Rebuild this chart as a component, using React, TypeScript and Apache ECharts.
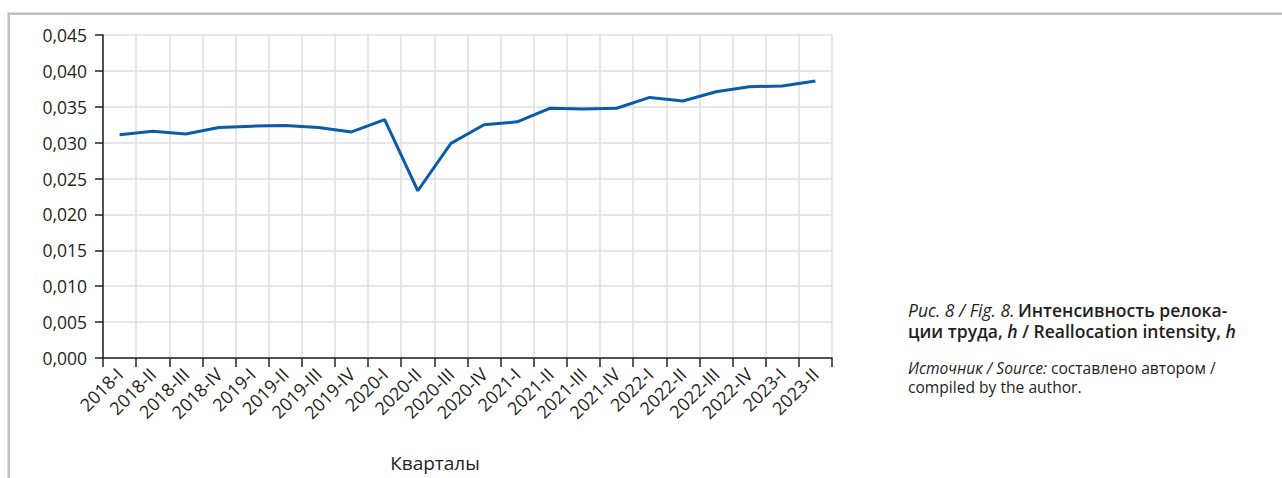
import React, { useEffect, useRef } from "react";
import * as echarts from "echarts";

const categories = [
  "2018-I", "2018-II", "2018-III", "2018-IV",
  "2019-I", "2019-II", "2019-III", "2019-IV",
  "2020-I", "2020-II", "2020-III", "2020-IV",
  "2021-I", "2021-II", "2021-III", "2021-IV",
  "2022-I", "2022-II", "2022-III", "2022-IV",
  "2023-I", "2023-II",
];

const values = [
  0.0311, 0.0316, 0.0312, 0.0321,
  0.0323, 0.0324, 0.0321, 0.0315,
  0.0332, 0.0233, 0.0299, 0.0325,
  0.0329, 0.0348, 0.0347, 0.0348,
  0.0363, 0.0358, 0.0371, 0.0378,
  0.0379, 0.0386,
];

const yMin = 0;
const yMax = 0.045;
const yStep = 0.005;

const xAxisName = "Кварталы";
const titleLine1 = ["Рис. 8 / Fig. 8.", "Интенсивность релока-"];
const titleLine2 = ["ции труда, ", "h", " / Reallocation intensity, ", "h"];
const sourceLine1 = ["Источник / Source:", " составлено автором /"];
const sourceLine2 = "compiled by the author.";

export default function App() {
  const ref = useRef<HTMLDivElement>(null);

  useEffect(() => {
    if (!ref.current) return;
    const chart = echarts.init(ref.current, null, { renderer: "svg" });
    const textColor = "#231f20";
    const axisFont = "'Open Sans', sans-serif";
    const titleFont = "'Open Sans', sans-serif";
    const tSize = 17.5;
    const tLine = 21.5;
    const sSize = 15.6;
    const sLine = 19.6;
    chart.setOption({
      animation: false,
      backgroundColor: "#ffffff",
      grid: { left: 103, right: 450, top: 35, bottom: 120, containLabel: false },
      xAxis: {
        type: "category",
        data: categories,
        boundaryGap: true,
        axisLine: { show: true, lineStyle: { color: "#231f20", width: 1.5 } },
        axisTick: { show: true, length: 9, lineStyle: { color: "#231f20", width: 1.5 } },
        axisLabel: {
          rotate: 45,
          interval: 0,
          margin: 13,
          color: textColor,
          fontFamily: axisFont,
          fontSize: 18,
        },
        splitLine: { show: true, lineStyle: { color: "#dedede", width: 1.5 } },
      },
      yAxis: {
        type: "value",
        min: yMin,
        max: yMax,
        interval: yStep,
        axisLine: { show: true, lineStyle: { color: "#231f20", width: 1.5 } },
        axisTick: { show: true, length: 8, lineStyle: { color: "#231f20", width: 1.5 } },
        axisLabel: {
          margin: 16,
          color: textColor,
          fontFamily: axisFont,
          fontSize: 17.5,
          formatter: (v: number) => v.toFixed(3).replace(".", ","),
        },
        splitLine: { show: true, lineStyle: { color: "#dedede", width: 1.5 } },
      },
      series: [
        {
          type: "line",
          data: values,
          symbol: "none",
          lineStyle: { color: "#0a5ba8", width: 3 },
        },
      ],
      graphic: [
        { type: "rect", shape: { x: 8, y: 12.5, width: 1274, height: 2.5 }, style: { fill: "#bfc0c2" } },
        { type: "rect", shape: { x: 7.5, y: 12.5, width: 2.5, height: 466 }, style: { fill: "#bfc0c2" } },
        {
          type: "text",
          x: 435,
          y: 463,
          style: {
            text: xAxisName,
            fill: textColor,
            font: `19px ${axisFont}`,
            align: "center",
            verticalAlign: "middle",
          },
        },
        {
          type: "text",
          x: 908,
          y: 320.5 - tLine,
          style: {
            text:
              `{i|${titleLine1[0]}} {b|${titleLine1[1]}}\n` +
              `{b|${titleLine2[0]}}{bi|${titleLine2[1]}}{b|${titleLine2[2]}}{bi|${titleLine2[3]}}`,
            verticalAlign: "top",
            rich: {
              i: { fontFamily: titleFont, fontSize: tSize, lineHeight: tLine, fontStyle: "italic", fill: textColor, color: textColor },
              b: { fontFamily: titleFont, fontSize: tSize, lineHeight: tLine, fontWeight: 600, fill: textColor, color: textColor },
              bi: { fontFamily: titleFont, fontSize: tSize, lineHeight: tLine, fontWeight: 600, fontStyle: "italic", fill: textColor, color: textColor },
            },
          },
        },
        {
          type: "text",
          x: 908,
          y: 377.5 - sLine,
          style: {
            text: `{i|${sourceLine1[0]}}{r|${sourceLine1[1]}}\n{r|${sourceLine2}}`,
            verticalAlign: "top",
            rich: {
              i: { fontFamily: titleFont, fontSize: sSize, lineHeight: sLine, fontStyle: "italic", fill: textColor, color: textColor },
              r: { fontFamily: titleFont, fontSize: sSize, lineHeight: sLine, fill: textColor, color: textColor },
            },
          },
        },
      ],
    });
    return () => chart.dispose();
  }, []);

  return (
    <div
      ref={ref}
      style={{ position: "absolute", left: 0, top: 0, width: 1282, height: 478 }}
    />
  );
}
